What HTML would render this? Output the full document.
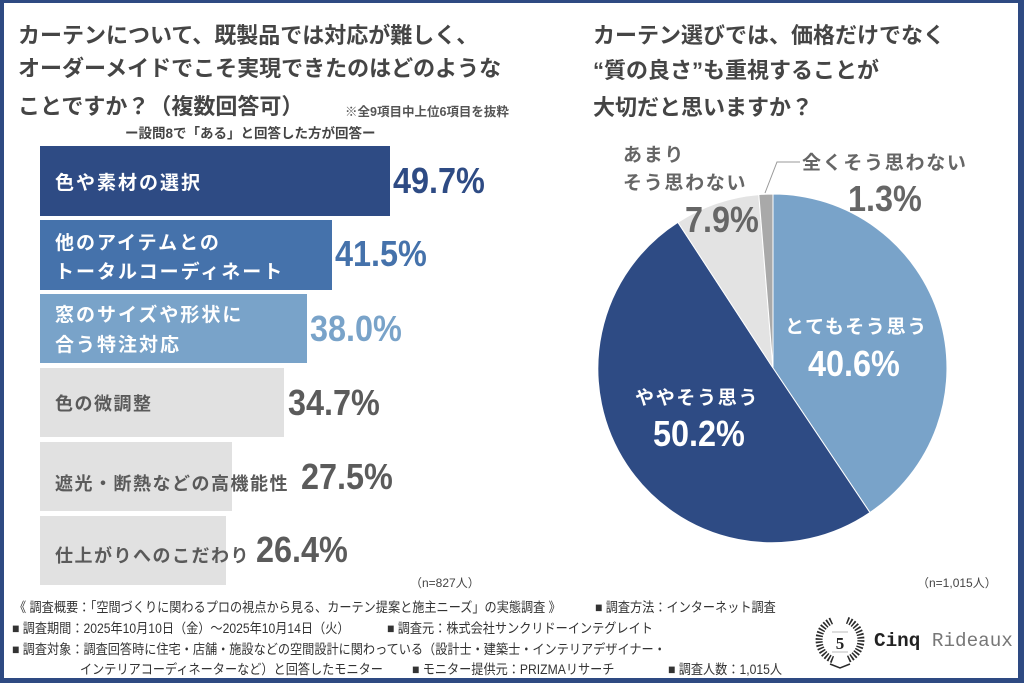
<!DOCTYPE html>
<html><head><meta charset="utf-8">
<style>
*{margin:0;padding:0;box-sizing:border-box}
html,body{width:1024px;height:683px;overflow:hidden;background:#fff}
body{position:relative;font-family:"Liberation Sans","Noto Sans CJK JP",sans-serif}
.frame{position:absolute;left:0;top:0;width:1024px;height:683px;border-style:solid;border-color:#2E4A82;border-width:3px 6px 5px 4px}
.t{position:absolute;white-space:nowrap;line-height:1}
.title{font-size:22px;font-weight:bold;color:#454545}
.bar{position:absolute;left:40px}
.lbw{font-size:19px;font-weight:bold;color:#fff;letter-spacing:2px}
.lbg{font-size:18px;font-weight:bold;color:#5a5a5a;letter-spacing:1.5px}
.pct{font-size:36px;font-weight:bold;transform:scaleX(0.9);transform-origin:left center;line-height:36px}
.pl{font-size:19px;font-weight:bold;color:#666;letter-spacing:1.7px}
.pw{font-size:19px;font-weight:bold;color:#fff;letter-spacing:1.7px}
.ft{font-size:13.5px;color:#333;transform:scaleX(0.9);transform-origin:left center}
</style></head><body>
<div class="frame"></div>

<div class="t title" style="left:18px;top:25px">カーテンについて、既製品では対応が難しく、</div>
<div class="t title" style="left:18px;top:58px">オーダーメイドでこそ実現できたのはどのような</div>
<div class="t title" style="left:18px;top:96px">ことですか？（複数回答可）</div>
<div class="t" style="left:345px;top:106px;font-size:12.5px;font-weight:bold;color:#555">※全9項目中上位6項目を抜粋</div>
<div class="t" style="left:125px;top:127px;font-size:13.5px;font-weight:bold;color:#444">ー設問8で「ある」と回答した方が回答ー</div>

<div class="bar" style="top:146px;width:350px;height:70px;background:#2E4B84"></div>
<div class="bar" style="top:220px;width:292px;height:70px;background:#4572AB"></div>
<div class="bar" style="top:294px;width:267px;height:69px;background:#79A3C9"></div>
<div class="bar" style="top:368px;width:244px;height:69px;background:#E1E1E1"></div>
<div class="bar" style="top:442px;width:192px;height:69px;background:#E1E1E1"></div>
<div class="bar" style="top:516px;width:186px;height:69px;background:#E1E1E1"></div>

<div class="t lbw" style="left:55px;top:174px">色や素材の選択</div>
<div class="t lbw" style="left:55px;top:234px">他のアイテムとの</div>
<div class="t lbw" style="left:55px;top:263px">トータルコーディネート</div>
<div class="t lbw" style="left:55px;top:306px">窓のサイズや形状に</div>
<div class="t lbw" style="left:55px;top:336px">合う特注対応</div>
<div class="t lbg" style="left:55px;top:395px">色の微調整</div>
<div class="t lbg" style="left:55px;top:475px">遮光・断熱などの高機能性</div>
<div class="t lbg" style="left:55px;top:547px">仕上がりへのこだわり</div>

<div class="t pct" style="left:393px;top:163px;color:#2E4B84">49.7%</div>
<div class="t pct" style="left:335px;top:236px;color:#4572AB">41.5%</div>
<div class="t pct" style="left:310px;top:311px;color:#79A3C9">38.0%</div>
<div class="t pct" style="left:288px;top:385px;color:#5B5B5B">34.7%</div>
<div class="t pct" style="left:301px;top:459px;color:#5B5B5B">27.5%</div>
<div class="t pct" style="left:256px;top:532px;color:#5B5B5B">26.4%</div>

<div class="t" style="left:410px;top:577px;font-size:12px;color:#444">（n=827人）</div>

<div class="t title" style="left:593px;top:25px">カーテン選びでは、価格だけでなく</div>
<div class="t title" style="left:593px;top:60px">“質の良さ”も重視することが</div>
<div class="t title" style="left:593px;top:97px">大切だと思いますか？</div>

<svg width="1024" height="683" style="position:absolute;left:0;top:0" xmlns="http://www.w3.org/2000/svg">
  <g stroke="#fff" stroke-width="1">
    <path d="M773,368 L773,194 A174,174 0 0 1 869.9,512.5 Z" fill="#79A3C9"/>
    <path d="M773,368 L869.9,512.5 A174,174 0 1 1 677.9,222.3 Z" fill="#2E4B84"/>
    <path d="M773,368 L677.9,222.3 A174,174 0 0 1 758.8,194.6 Z" fill="#E3E3E3"/>
    <path d="M773,368 L758.8,194.6 A174,174 0 0 1 773,194 Z" fill="#A9A9A9"/>
  </g>
  <polyline points="765,193 777,162 800,162" fill="none" stroke="#999" stroke-width="1"/>
  <g fill="none" stroke="#2a2a2a" stroke-width="7" stroke-dasharray="1.6 1.6">
    <path d="M832.8,659.7 A21,21 0 0 1 832.8,620.3"/>
    <path d="M847.2,620.3 A21,21 0 0 1 847.2,659.7"/>
  </g>
  <path d="M830,664 L840,668 L850,664" fill="none" stroke="#2a2a2a" stroke-width="1.5"/>
  <line x1="832" y1="632" x2="848" y2="632" stroke="#bbb" stroke-width="1"/>
  <line x1="832" y1="652" x2="848" y2="652" stroke="#bbb" stroke-width="1"/>
  <text x="840" y="649" text-anchor="middle" font-family="Liberation Serif, serif" font-weight="bold" font-size="17" fill="#222">5</text>
</svg>

<div class="t pl" style="left:623px;top:146px">あまり</div>
<div class="t pl" style="left:623px;top:174px">そう思わない</div>
<div class="t pl" style="left:802px;top:154px">全くそう思わない</div>
<div class="t pct" style="left:685px;top:202px;color:#666">7.9%</div>
<div class="t pct" style="left:848px;top:181px;color:#666">1.3%</div>
<div class="t pw" style="left:785px;top:318px">とてもそう思う</div>
<div class="t pct" style="left:808px;top:346px;color:#fff">40.6%</div>
<div class="t pw" style="left:635px;top:389px">ややそう思う</div>
<div class="t pct" style="left:653px;top:416px;color:#fff">50.2%</div>

<div class="t" style="left:917px;top:577px;font-size:12px;color:#444">（n=1,015人）</div>

<div class="t ft" style="left:14px;top:601px">《 調査概要：「空間づくりに関わるプロの視点から見る、カーテン提案と施主ニーズ」の実態調査 》</div>
<div class="t ft" style="left:595px;top:601px">■ 調査方法：インターネット調査</div>
<div class="t ft" style="left:12px;top:622px">■ 調査期間：2025年10月10日（金）～2025年10月14日（火）</div>
<div class="t ft" style="left:387px;top:622px">■ 調査元：株式会社サンクリドーインテグレイト</div>
<div class="t ft" style="left:12px;top:643px">■ 調査対象：調査回答時に住宅・店舗・施設などの空間設計に関わっている（設計士・建築士・インテリアデザイナー・</div>
<div class="t ft" style="left:80px;top:663px">インテリアコーディネーターなど）と回答したモニター</div>
<div class="t ft" style="left:412px;top:663px">■ モニター提供元：PRIZMAリサーチ</div>
<div class="t ft" style="left:668px;top:663px">■ 調査人数：1,015人</div>

<div class="t" style="left:874px;top:632px;font-family:'Liberation Mono',monospace;font-size:19.3px;color:#777"><b style="color:#222">Cinq</b> Rideaux</div>
</body></html>
